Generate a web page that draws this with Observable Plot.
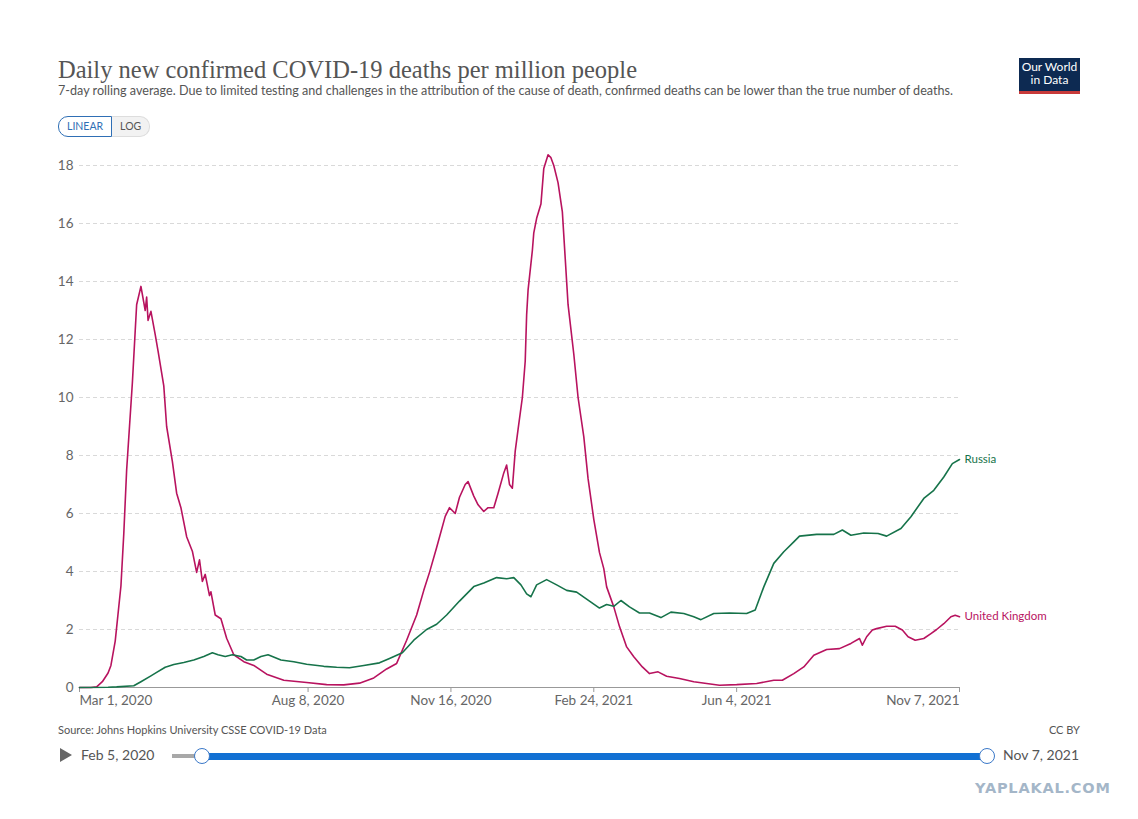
<!DOCTYPE html>
<html>
<head>
<meta charset="utf-8">
<script src="https://cdn.jsdelivr.net/npm/d3@7"></script>
<script src="https://cdn.jsdelivr.net/npm/@observablehq/plot@0.6"></script>
<style>
  html, body { margin: 0; padding: 0; background: #fff; }
  body { width: 1138px; height: 819px; position: relative; overflow: hidden; font-family: Lato, "Noto Sans", sans-serif; }
  .abs { position: absolute; white-space: nowrap; }
  #title { left: 58px; top: 56px; font-family: "Liberation Serif", "DejaVu Serif", serif; font-size: 24.5px; color: #555; }
  #subtitle { left: 58px; top: 83px; font-size: 12.6px; color: #555; }
  #btns { left: 58px; top: 116px; display: flex; font-size: 10.5px; }
  #btns div { height: 19px; line-height: 19px; padding: 0 8px; }
  #lin { border: 1px solid #2f6fb5; color: #2f6fb5; border-radius: 10px 0 0 10px; background: #fff; }
  #log { border: 1px solid #ddd; border-left: none; color: #555; border-radius: 0 10px 10px 0; background: #f2f2f2; }
  #logo { left: 1019px; top: 58px; width: 61px; height: 31px; background: #0d2a52; color: #fff; font-size: 12px; line-height: 13px; text-align: center; padding-top: 2px; border-bottom: 3px solid #c83a3a; box-sizing: content-box; }
  #chart { left: 0; top: 140px; }
  #source { left: 58px; top: 723px; font-size: 11px; color: #555; }
  #ccby { right: 58px; top: 723px; font-size: 11px; color: #555; }
  #play { left: 60px; top: 748px; width: 0; height: 0; border-left: 12px solid #666; border-top: 7px solid transparent; border-bottom: 7px solid transparent; }
  #start { left: 81px; top: 746px; font-size: 14px; color: #555; }
  #end { left: 1003px; top: 746px; font-size: 14px; color: #555; }
  #track0 { left: 172px; top: 754px; width: 30px; height: 4px; background: #a8a8a8; }
  #track1 { left: 202px; top: 753px; width: 785px; height: 7px; background: #1170d3; }
  .knob { top: 748px; width: 14px; height: 14px; border-radius: 50%; background: #fff; border: 1.5px solid #3a78c8; }
  #wm { left: 975px; top: 780px; font-size: 14.5px; font-weight: bold; color: #a4b6c8; letter-spacing: 0.8px; font-family: "DejaVu Sans", sans-serif; }
</style>
</head>
<body>
<div class="abs" id="title">Daily new confirmed COVID-19 deaths per million people</div>
<div class="abs" id="subtitle">7-day rolling average. Due to limited testing and challenges in the attribution of the cause of death, confirmed deaths can be lower than the true number of deaths.</div>
<div class="abs" id="btns"><div id="lin">LINEAR</div><div id="log">LOG</div></div>
<div class="abs" id="logo">Our World<br>in Data</div>
<div class="abs" id="chart"></div>
<div class="abs" id="source">Source: Johns Hopkins University CSSE COVID-19 Data</div>
<div class="abs" id="ccby">CC BY</div>
<div class="abs" id="play"></div>
<div class="abs" id="start">Feb 5, 2020</div>
<div class="abs" id="track0"></div>
<div class="abs" id="track1"></div>
<div class="abs knob" style="left:194px"></div>
<div class="abs knob" style="left:979px"></div>
<div class="abs" id="end">Nov 7, 2021</div>
<div class="abs" id="wm">YAPLAKAL.COM</div>
<script>
// ---- data ----
const countries = ["United Kingdom", "Russia"];
const colors = ["#b8135f", "#16734a"];

const ukDates = ["2020-03-01","2020-03-09","2020-03-13","2020-03-17","2020-03-21","2020-03-23","2020-03-26","2020-03-30","2020-04-01","2020-04-03","2020-04-05","2020-04-07","2020-04-09","2020-04-10","2020-04-13","2020-04-16","2020-04-17","2020-04-18","2020-04-20","2020-04-23","2020-04-25","2020-04-29","2020-05-01","2020-05-05","2020-05-08","2020-05-11","2020-05-15","2020-05-19","2020-05-22","2020-05-24","2020-05-26","2020-05-28","2020-05-31","2020-06-01","2020-06-04","2020-06-08","2020-06-12","2020-06-17","2020-06-24","2020-07-01","2020-07-10","2020-07-22","2020-08-07","2020-08-21","2020-09-02","2020-09-13","2020-09-23","2020-10-02","2020-10-09","2020-10-16","2020-10-23","2020-10-28","2020-11-01","2020-11-06","2020-11-12","2020-11-15","2020-11-19","2020-11-22","2020-11-26","2020-11-28","2020-12-02","2020-12-05","2020-12-09","2020-12-12","2020-12-16","2020-12-19","2020-12-23","2020-12-25","2020-12-27","2020-12-29","2020-12-31","2021-01-02","2021-01-05","2021-01-07","2021-01-08","2021-01-09","2021-01-12","2021-01-13","2021-01-15","2021-01-18","2021-01-20","2021-01-23","2021-01-25","2021-01-27","2021-01-30","2021-02-02","2021-02-04","2021-02-06","2021-02-10","2021-02-13","2021-02-17","2021-02-20","2021-02-24","2021-02-28","2021-03-03","2021-03-05","2021-03-10","2021-03-14","2021-03-19","2021-03-24","2021-03-30","2021-04-04","2021-04-10","2021-04-16","2021-04-25","2021-05-05","2021-05-14","2021-05-23","2021-06-04","2021-06-18","2021-06-30","2021-07-06","2021-07-14","2021-07-21","2021-07-28","2021-08-06","2021-08-15","2021-08-23","2021-08-29","2021-08-31","2021-09-03","2021-09-07","2021-09-10","2021-09-17","2021-09-23","2021-09-28","2021-10-02","2021-10-07","2021-10-13","2021-10-18","2021-10-22","2021-10-27","2021-11-01","2021-11-04","2021-11-07"];
const ukValues = [0,0,0.02,0.2,0.5,0.76,1.6,3.5,5.3,7.5,9.0,10.5,12.3,13.2,13.83,13.0,13.46,12.66,12.97,12.17,11.6,10.4,9.0,7.8,6.7,6.2,5.2,4.7,3.97,4.4,3.66,3.9,3.17,3.3,2.5,2.37,1.7,1.13,0.89,0.76,0.46,0.25,0.17,0.1,0.09,0.15,0.33,0.64,0.83,1.63,2.5,3.35,3.97,4.83,5.9,6.2,6.0,6.56,7.0,7.1,6.6,6.3,6.07,6.2,6.2,6.7,7.4,7.67,7.0,6.87,8.15,8.9,10.0,11.25,12.85,13.7,15.07,15.68,16.18,16.67,17.9,18.37,18.27,18.0,17.4,16.4,14.8,13.2,11.5,10.0,8.65,7.2,5.8,4.65,4.1,3.47,2.78,2.1,1.4,1.06,0.71,0.48,0.54,0.39,0.31,0.2,0.14,0.08,0.1,0.14,0.25,0.25,0.48,0.71,1.11,1.31,1.34,1.52,1.69,1.46,1.75,1.98,2.03,2.11,2.11,1.98,1.75,1.63,1.69,1.86,2.0,2.2,2.44,2.49,2.44];

const ruDates = ["2020-03-01","2020-03-21","2020-03-27","2020-04-08","2020-04-13","2020-04-20","2020-04-24","2020-04-30","2020-05-06","2020-05-13","2020-05-20","2020-05-27","2020-06-02","2020-06-06","2020-06-11","2020-06-16","2020-06-22","2020-06-26","2020-07-01","2020-07-06","2020-07-11","2020-07-20","2020-07-29","2020-08-07","2020-08-19","2020-08-28","2020-09-06","2020-09-16","2020-09-27","2020-10-04","2020-10-13","2020-10-21","2020-10-30","2020-11-06","2020-11-13","2020-11-22","2020-12-02","2020-12-09","2020-12-18","2020-12-25","2020-12-30","2021-01-04","2021-01-08","2021-01-11","2021-01-15","2021-01-22","2021-01-29","2021-02-05","2021-02-12","2021-02-19","2021-02-28","2021-03-05","2021-03-10","2021-03-15","2021-03-21","2021-03-28","2021-04-04","2021-04-12","2021-04-19","2021-04-28","2021-05-05","2021-05-10","2021-05-19","2021-05-30","2021-06-11","2021-06-17","2021-06-23","2021-06-30","2021-07-07","2021-07-14","2021-07-18","2021-07-30","2021-08-11","2021-08-17","2021-08-23","2021-09-01","2021-09-11","2021-09-17","2021-09-27","2021-10-04","2021-10-13","2021-10-20","2021-10-27","2021-11-02","2021-11-07"];
const ruValues = [0,0.01,0.02,0.06,0.2,0.4,0.52,0.7,0.79,0.86,0.95,1.07,1.2,1.13,1.07,1.13,1.07,0.95,0.95,1.07,1.13,0.95,0.89,0.8,0.73,0.7,0.68,0.76,0.85,1.0,1.2,1.63,2.0,2.18,2.5,2.98,3.48,3.6,3.79,3.75,3.79,3.54,3.23,3.13,3.54,3.72,3.54,3.35,3.29,3.05,2.74,2.86,2.8,3.0,2.78,2.57,2.57,2.41,2.6,2.55,2.44,2.34,2.55,2.57,2.55,2.67,3.47,4.28,4.68,5.02,5.22,5.28,5.28,5.43,5.25,5.33,5.31,5.22,5.48,5.89,6.52,6.8,7.26,7.72,7.86];

const yTicks = [0, 2, 4, 6, 8, 10, 12, 14, 16, 18];
const xTickDates = ["2020-03-01", "2020-08-08", "2020-11-16", "2021-02-24", "2021-06-04", "2021-11-07"];
const xDomain = ["2020-03-01", "2021-11-07"];

// ---- build table ----
const parse = d3.utcParse("%Y-%m-%d");
const rows = [
  ...ukDates.map((d, i) => ({country: countries[0], date: parse(d), value: ukValues[i]})),
  ...ruDates.map((d, i) => ({country: countries[1], date: parse(d), value: ruValues[i]}))
];
const lastPoints = [
  {country: countries[0], date: parse(ukDates[ukDates.length - 1]), value: ukValues[ukValues.length - 1]},
  {country: countries[1], date: parse(ruDates[ruDates.length - 1]), value: ruValues[ruValues.length - 1]}
];
const ticks = xTickDates.map(parse);
const fmt = d3.utcFormat("%b %-d, %Y");
const axisStyle = {tickSize: 5, tickPadding: 3, stroke: "#999", fill: "#666", fontSize: 13.5, tickFormat: fmt, label: null};

const chart = Plot.plot({
  width: 1138,
  height: 580,
  marginLeft: 79,
  marginRight: 179,
  marginTop: 25,
  marginBottom: 33,
  style: {fontFamily: "Lato, 'Noto Sans', sans-serif", fontSize: "13px", background: "transparent"},
  x: {type: "utc", domain: xDomain.map(parse)},
  y: {domain: [0, 18]},
  color: {domain: countries, range: colors},
  marks: [
    Plot.gridY(yTicks.slice(1), {stroke: "#d9d9d9", strokeOpacity: 1, strokeDasharray: "4,3"}),
    Plot.axisY(yTicks, {tickSize: 0, tickPadding: 6, fill: "#666", fontSize: 13.5, label: null}),
    Plot.ruleY([0], {stroke: "#999"}),
    Plot.axisX([ticks[0]], {...axisStyle, textAnchor: "start"}),
    Plot.axisX(ticks.slice(1, -1), axisStyle),
    Plot.axisX([ticks[ticks.length - 1]], {...axisStyle, textAnchor: "end"}),
    Plot.line(rows, {x: "date", y: "value", z: "country", stroke: "country", strokeWidth: 1.6, curve: "linear"}),
    Plot.text(lastPoints, {x: "date", y: "value", text: "country", fill: "country", textAnchor: "start", dx: 5, fontSize: 11.5})
  ]
});
document.getElementById("chart").appendChild(chart);
</script>
</body>
</html>
